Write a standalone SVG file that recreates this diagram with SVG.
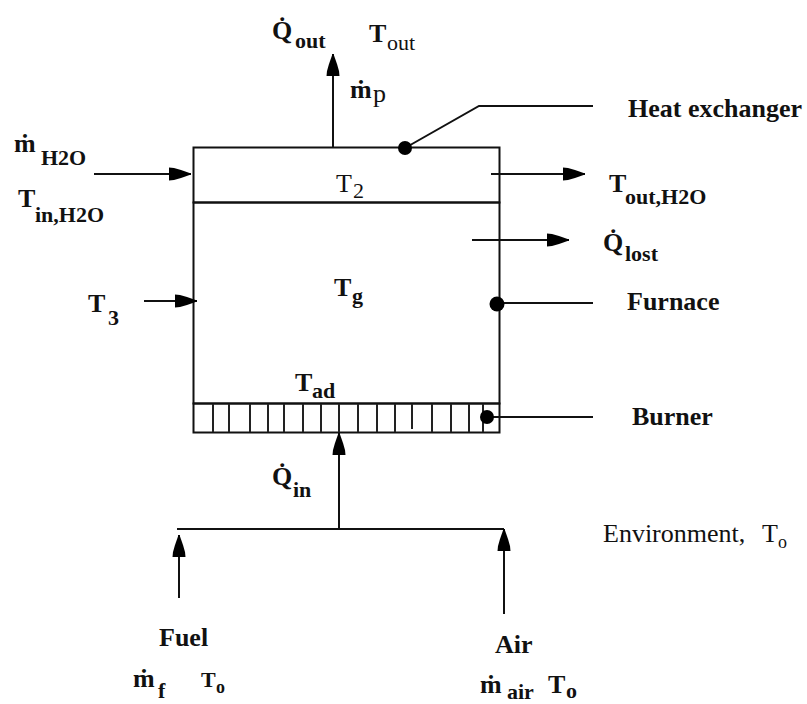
<svg xmlns="http://www.w3.org/2000/svg" width="807" height="704" viewBox="0 0 807 704">
<defs>
<marker id="ah" markerUnits="userSpaceOnUse" markerWidth="24" markerHeight="14" refX="22" refY="7" orient="auto"><path d="M0 0.500L5 1L12 3L22 6.500V7.500L12 11L5 13L0 13.500Z" fill="#000"/></marker>
</defs>
<style>
text{font-family:"Liberation Serif","Times New Roman",serif;fill:#111}
.b{font-weight:bold;font-size:26px}
.r{font-size:26px}
.s{font-weight:bold;font-size:22px}
.rs{font-size:22px}
.l,.a{fill:none;stroke:#111;stroke-width:2}
.a{marker-end:url(#ah)}
.t{stroke:#222;stroke-width:2}
</style>
<rect width="807" height="704" fill="#fff"/>
<g id="heat-exchanger">
<rect x="193.500" y="147.500" width="306" height="55" fill="none" stroke="#111" stroke-width="2"/>
<text x="336" y="192" class="r">T</text><text x="353" y="198" class="rs">2</text>
</g>
<g id="furnace">
<rect x="193.500" y="202.500" width="306" height="201" fill="none" stroke="#111" stroke-width="2"/>
<text x="334" y="296" class="b">T</text><text x="352" y="303" class="s">g</text>
<text x="295" y="391" class="b">T</text><text x="312" y="398" class="s">ad</text>
</g>
<g id="burner">
<rect x="193.500" y="403.500" width="306" height="29" fill="none" stroke="#111" stroke-width="2"/>
<path class="t" d="M213 404V432M229 404V432M250 404V432M268 404V432M284 404V432M303 404V432M321 404V432M339 404V432M358 404V432M377 404V432M395 404V432M412 404V429M432 404V432M451 404V432M469 404V432M483 404V432"/>
</g>
<g id="connectors">
<path class="a" d="M333 147V54"/>
<path class="a" d="M94 174H191"/>
<path class="a" d="M144 301H197"/>
<path class="a" d="M491 174H585"/>
<path class="a" d="M472 240H569"/>
<path class="a" d="M339 529V433"/>
<path class="l" d="M177 529H504"/>
<path class="a" d="M179 598V535"/>
<path class="a" d="M504 614V529"/>
<path class="l" d="M405 148L479 106H593"/>
<path class="l" d="M497 303H593"/>
<path class="l" d="M487 417H593"/>
<circle cx="405" cy="148" r="7"/>
<circle cx="497" cy="304" r="7.500"/>
<circle cx="487" cy="417" r="7"/>
</g>
<g id="labels">
<text x="272" y="39" class="b">Q̇</text><text x="295" y="48" class="s">out</text>
<text x="369" y="42" class="b">T</text><text x="387" y="50" class="rs">out</text>
<text x="350" y="98" class="b">ṁ</text><text x="373" y="102" class="r">p</text>
<text x="14" y="152" class="b">ṁ</text><text x="41" y="165" class="s">H2O</text>
<text x="18" y="207" class="b">T</text><text x="35" y="222" class="s">in,H2O</text>
<text x="88" y="312" class="b">T</text><text x="108" y="325" class="s">3</text>
<text x="609" y="192" class="b">T</text><text x="625" y="204" class="s">out,H2O</text>
<text x="603" y="251" class="b">Q̇</text><text x="625" y="261" class="s">lost</text>
<text x="628" y="117" class="b">Heat exchanger</text>
<text x="627" y="310" class="b">Furnace</text>
<text x="632" y="425" class="b">Burner</text>
<text x="603" y="542" font-size="26">Environment,</text><text x="762" y="542" font-size="26">T</text><text x="778" y="548" font-size="18">o</text>
<text x="272" y="485" class="b">Q̇</text><text x="293" y="497" class="s">in</text>
<text x="159" y="646" class="b">Fuel</text>
<text x="495" y="653" class="b">Air</text>
<text x="133" y="687" class="b">ṁ</text><text x="158" y="698" class="s">f</text>
<text x="201" y="687" class="b" style="font-size:22px">T</text><text x="216" y="693" class="s" style="font-size:18px">o</text>
<text x="480" y="693" class="b">ṁ</text><text x="507" y="699" class="s">air</text>
<text x="548" y="693" class="b">T</text><text x="566" y="698" class="s">o</text>
</g>
</svg>
